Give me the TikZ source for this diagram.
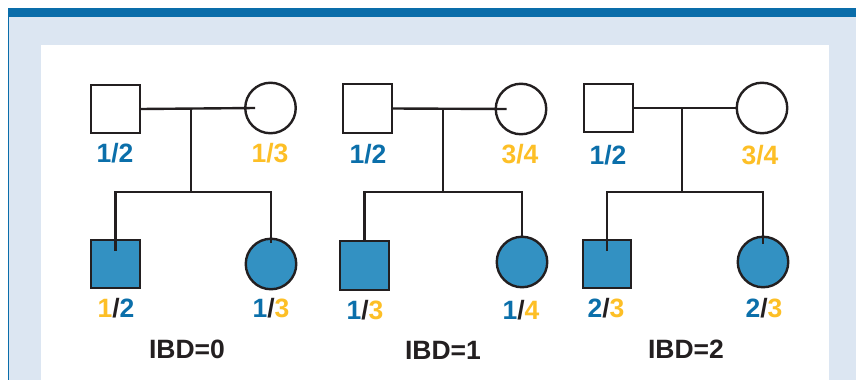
\documentclass[tikz,border=0pt]{standalone}
\usepackage{fontspec}
\setmainfont{Liberation Sans}
\definecolor{bar}{HTML}{0A6DAA}
\definecolor{panel}{HTML}{DCE6F2}
\definecolor{btxt}{HTML}{0B6FAA}
\definecolor{ytxt}{HTML}{FDBF26}
\definecolor{kfill}{HTML}{3391C2}
\definecolor{ink}{HTML}{231F20}
\tikzset{
  male/.style={draw=ink, line width=2.4pt, minimum size=48.5pt, inner sep=0pt, rectangle},
  female/.style={draw=ink, line width=2.4pt, minimum size=50.5pt, inner sep=0pt, circle},
  kid/.style={fill=kfill},
  lbl/.style={inner sep=0pt, font=\fontsize{26.5}{30}\selectfont\bfseries},
  link/.style={draw=ink, line width=2.4pt},
}
\newcommand{\pbl}[1]{\textcolor{btxt}{#1}}
\newcommand{\pyl}[1]{\textcolor{ytxt}{#1}}
\newcommand{\psl}{\textcolor{ink}{/}}
\begin{document}
\begin{tikzpicture}[x=1pt,y=-1pt]
\useasboundingbox (0,0) rectangle (856,380);
% frame
\fill[panel] (8,17) rectangle (856,380);
\fill[bar] (8,8) rectangle (856,17);
\draw[bar, line width=1.2pt] (8.6,17) -- (8.6,380);
\fill[white] (41,45) rectangle (829,380);

% ---------- IBD=0 ----------
\node[male] (f1) at (115.5,109) {};
\node[female] (m1) at (270.5,108) {};
\node[male,kid] (s1) at (115.5,264) {};
\node[female,kid] (d1) at (271,264) {};
\coordinate (j1) at (191,109);
\coordinate (k1) at (191,192);
\draw[link] (f1.east) -- ([xshift=11pt]m1.west);
\draw[link] (j1) -- (k1);
\draw[link] ([yshift=-12pt]s1.north) -- (s1.north |- k1) -- (d1.north |- k1) -- ([yshift=-5pt]d1.north);
\node[lbl, text=btxt] (lf1) at (115,153) {1/2};
\node[lbl, text=ytxt] (lm1) at (270,153) {1/3};
\node[lbl] (ls1) at (116,308) {\pyl{1}\psl\pbl{2}};
\node[lbl] (ld1) at (271,308) {\pbl{1}\psl\pyl{3}};
\node[lbl, text=ink] (t1) at (187,349) {IBD=0};

% ---------- IBD=1 ----------
\node[male] (f2) at (367.5,108.5) {};
\node[female] (m2) at (521,109) {};
\node[male,kid] (s2) at (364.5,265.5) {};
\node[female,kid] (d2) at (522,262) {};
\coordinate (j2) at (443,109);
\coordinate (k2) at (443,192);
\draw[link] (f2.east) -- ([xshift=12pt]m2.west);
\draw[link] (j2) -- (k2);
\draw[link] (s2.north) -- (s2.north |- k2) -- (d2.north |- k2) -- (d2.north);
\node[lbl, text=btxt] (lf2) at (368,154) {1/2};
\node[lbl, text=ytxt] (lm2) at (520,154) {3/4};
\node[lbl] (ls2) at (365,310) {\pbl{1}\psl\pyl{3}};
\node[lbl] (ld2) at (521,310) {\pbl{1}\psl\pyl{4}};
\node[lbl, text=ink] (t2) at (443,350) {IBD=1};

% ---------- IBD=2 ----------
\node[male] (f3) at (608.5,108) {};
\node[female] (m3) at (762,108) {};
\node[male,kid] (s3) at (607,264) {};
\node[female,kid] (d3) at (763,262) {};
\coordinate (j3) at (682,108);
\coordinate (k3) at (682,192);
\draw[link] (f3.east) -- (m3.west);
\draw[link] (j3) -- (k3);
\draw[link] ([yshift=-12pt]s3.north) -- (s3.north |- k3) -- (d3.north |- k3) -- ([yshift=-8pt]d3.north);
\node[lbl, text=btxt] (lf3) at (608,155) {1/2};
\node[lbl, text=ytxt] (lm3) at (760,155) {3/4};
\node[lbl] (ls3) at (606,308) {\pbl{2}\psl\pyl{3}};
\node[lbl] (ld3) at (764,308) {\pbl{2}\psl\pyl{3}};
\node[lbl, text=ink] (t3) at (686,349) {IBD=2};
\end{tikzpicture}
\end{document}
